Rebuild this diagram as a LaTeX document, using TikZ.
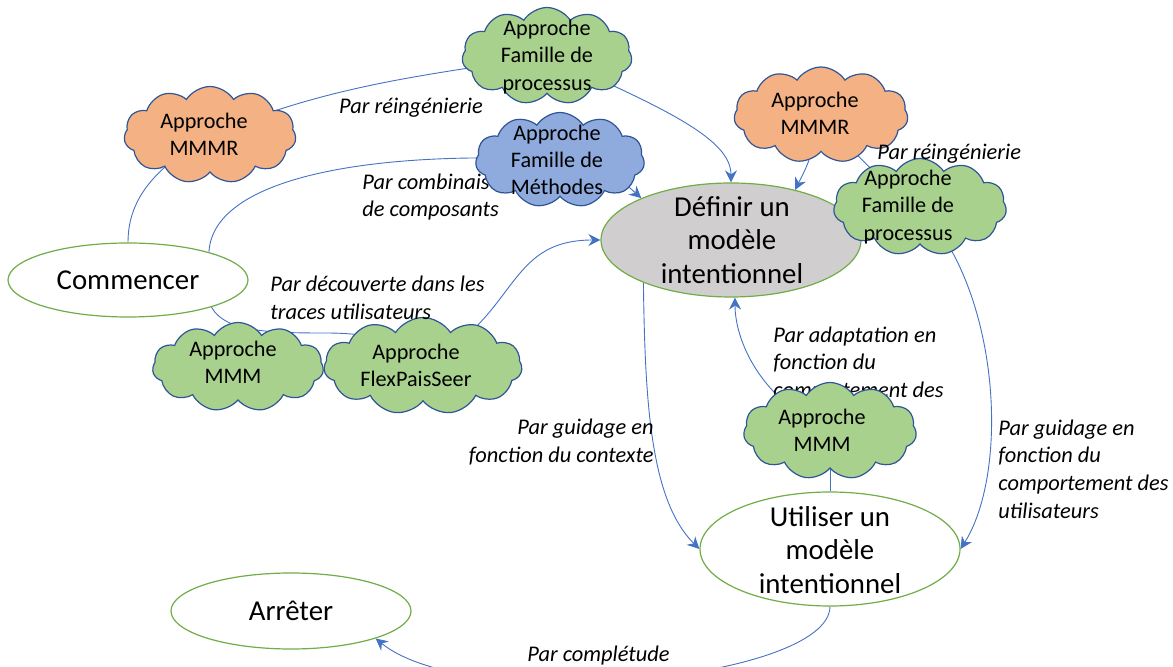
\documentclass[tikz,border=0pt]{standalone}
\usepackage{fontspec}
\setmainfont{Carlito}
\usetikzlibrary{shapes.symbols,shapes.geometric,arrows.meta,calc}
\definecolor{cgreen}{HTML}{A9D18E}
\definecolor{corange}{HTML}{F4B183}
\definecolor{cblue}{HTML}{8FAADC}
\definecolor{cloudline}{HTML}{2F5597}
\definecolor{egreen}{HTML}{70AD47}
\definecolor{egray}{HTML}{D0CECE}
\definecolor{cconn}{HTML}{4472C4}
\pgfdeclarelayer{bg}
\pgfsetlayers{bg,main}
\tikzset{
  cloudbase/.style={cloud, cloud puffs=11, cloud puff arc=115, cloud ignores aspect,
    draw=cloudline, line width=0.6pt, inner sep=0pt},
  gcloud/.style={cloudbase, fill=cgreen},
  ocloud/.style={cloudbase, fill=corange},
  bcloud/.style={cloudbase, fill=cblue},
  ctext/.style={font=\fontsize{11.1}{13.6}\selectfont, align=center, inner sep=0pt},
  statebox/.style={ellipse, draw=egreen, line width=0.6pt, fill=white, inner sep=0pt},
  stext/.style={font=\fontsize{14.4}{16.8}\selectfont, align=center, inner sep=0pt},
  lbl/.style={font=\fontsize{11.2}{13.8}\selectfont\itshape, align=left, inner sep=0pt},
  link/.style={draw=cconn, line width=0.45pt},
  arrowlink/.style={link, -{Stealth[length=6pt,width=6pt,inset=2pt]}}
}
\begin{document}
\begin{tikzpicture}[x=0.5pt,y=-0.5pt]
\useasboundingbox (0,0) rectangle (1173,667);
\clip (0,0) rectangle (1173,667);

% states
\node[statebox, minimum width=120pt, minimum height=37pt] (comm) at (128,280) {};
\node[stext] (commtxt) at (comm.center) {Commencer};
\node[statebox, fill=egray, minimum width=130pt, minimum height=57pt] (def) at (731,240) {};
\node[stext] (deftxt) at (732,240) {Définir un\\modèle\\intentionnel};
\node[statebox, minimum width=130pt, minimum height=57pt] (util) at (830,549) {};
\node[stext] (utiltxt) at (830,550) {Utiliser un\\modèle\\intentionnel};
\node[statebox, minimum width=120pt, minimum height=38pt] (stop) at (291,611) {};
\node[stext] (stoptxt) at (stop.center) {Arrêter};

% labels hidden under clouds
\node[lbl, anchor=west] (l2) at (362,197) {Par combinaison\\de composants};
\node[lbl, anchor=west] (l5) at (773,364) {Par adaptation en\\fonction du\\comportement des};

% clouds
\node[gcloud, minimum width=85pt, minimum height=48.5pt] (g1) at (547,56) {};
\node[ctext] (g1t) at (547,57) {Approche\\Famille de\\processus};
\node[ocloud, minimum width=86pt, minimum height=48.5pt] (m1) at (210,135) {};
\node[ctext] (m1t) at (204,134) {Approche\\MMMR};
\node[bcloud, minimum width=84.5pt, minimum height=47.5pt] (b1) at (560,160) {};
\node[ctext] (b1t) at (557,160) {Approche\\Famille de\\Méthodes};
\node[ocloud, minimum width=87pt, minimum height=48pt] (m2) at (821,115) {};
\node[ctext] (m2t) at (815,113) {Approche\\MMMR};
\node[gcloud, minimum width=86.5pt, minimum height=48.5pt] (g2) at (920,207) {};
\node[ctext] (g2t) at (908,207) {Approche\\Famille de\\processus};
\node[gcloud, minimum width=85.5pt, minimum height=44.5pt] (mmm1) at (238,367) {};
\node[ctext] (mmm1t) at (233,362) {Approche\\MMM};
\node[gcloud, minimum width=99pt, minimum height=48.5pt] (flex) at (423,366) {};
\node[ctext] (flext) at (416,365) {Approche\\FlexPaisSeer};
\node[gcloud, minimum width=86.5pt, minimum height=48.5pt] (mmm3) at (830,431) {};
\node[ctext] (mmm3t) at (822,430) {Approche\\MMM};

% labels on top
\node[lbl, anchor=center] (l1) at (411,108) {Par réingénierie};
\node[lbl, anchor=west] (l3) at (270,298) {Par découverte dans les\\traces utilisateurs};
\node[lbl, anchor=west] (l4) at (877,154) {Par réingénierie};
\node[lbl, anchor=east, align=right] (l6) at (654,442) {Par guidage en\\fonction du contexte};
\node[lbl, anchor=west] (l7) at (998,469) {Par guidage en\\fonction du\\comportement des\\utilisateurs};
\node[lbl, anchor=west] (l8) at (527,656) {Par complétude};

% connectors
\begin{pgfonlayer}{bg}
\draw[link] (comm.north) .. controls (128,195) and (160,165) .. (m1.center);
\draw[link] (m1.center) .. controls (330,85) and (420,76) .. (g1.center);
\draw[arrowlink] (g1.center) .. controls (670,110) and (731,140) .. (def.north);
\draw[link] (comm.19) .. controls (213,175) and (380,150) .. (b1.center);
\draw[arrowlink] (b1.center) .. controls (610,170) .. (def.155);
\draw[link] (comm.-18) .. controls (225,332) and (270,333) .. (325,333) .. controls (370,333) and (400,340) .. (flex.center);
\draw[arrowlink] (flex.center) .. controls (520,315) and (505,240) .. (def.west);
\draw[link] (g2.center) .. controls (870,170) .. (m2.center);
\draw[arrowlink] (m2.center) .. controls (810,160) .. (def.38);
\draw[arrowlink] (def.206) .. controls (645,400) and (650,500) .. (util.west);
\draw[arrowlink] (g2.center) .. controls (1000,290) and (1010,470) .. (util.east);
\draw[link] (util.north) -- (mmm3.center);
\draw[arrowlink] (mmm3.center) .. controls (760,400) and (735,340) .. (def.274);
\draw[arrowlink] (util.south) .. controls (829,680) and (470,715) .. (stop.-18);
\end{pgfonlayer}
\end{tikzpicture}
\end{document}
